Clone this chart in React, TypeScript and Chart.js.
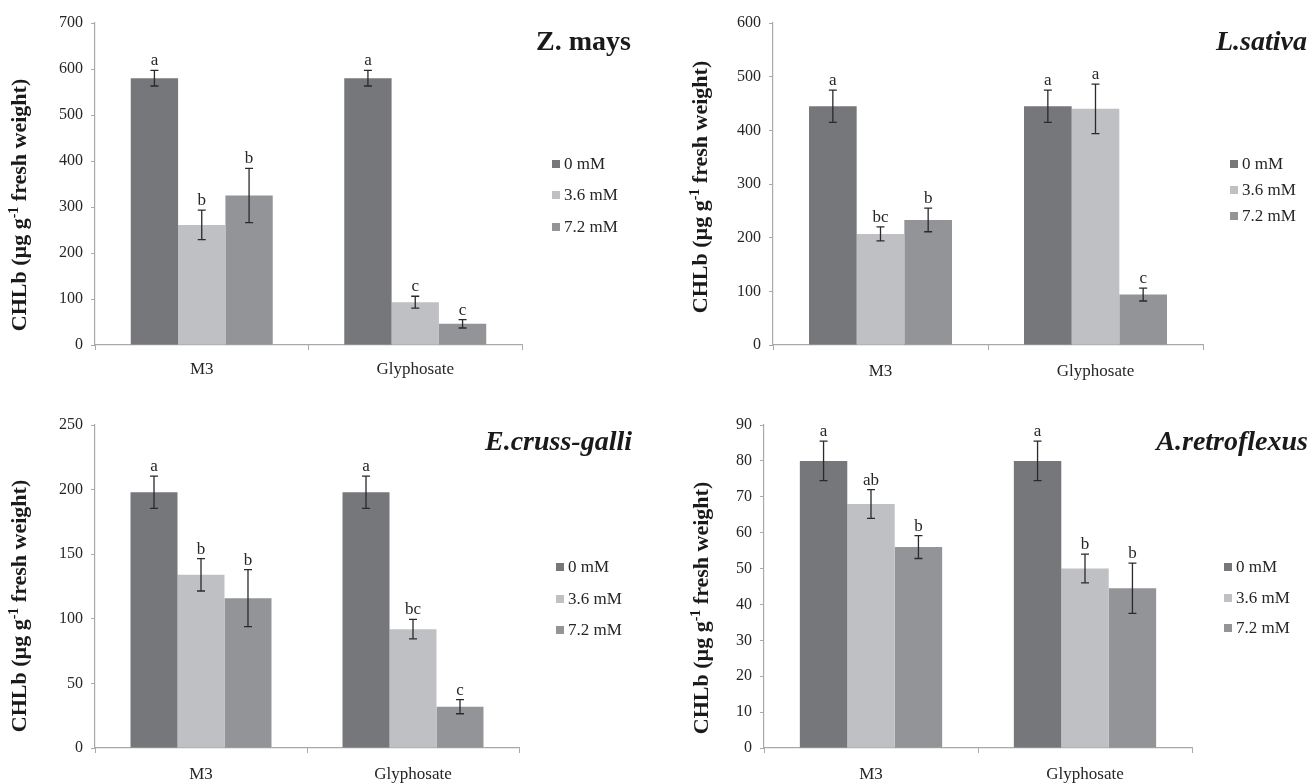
import React, { useEffect, useRef } from 'react';
import { Chart, registerables } from 'chart.js';

Chart.register(...registerables);

// ---------- shared ----------
const categories = ['M3', 'Glyphosate'];
const seriesLabels = ['0 mM', '3.6 mM', '7.2 mM'];
const seriesColors = ['#76777b', '#bfc0c4', '#939498'];

// ---------- Z. mays ----------
const zmaysTitle = 'Z. mays';
const zmays0 = [580, 580];
const zmays36 = [261, 93];
const zmays72 = [325, 46];
const zmaysErr0 = [17, 17];
const zmaysErr36 = [32, 13];
const zmaysErr72 = [59, 9];
const zmaysLetters0 = ['a', 'a'];
const zmaysLetters36 = ['b', 'c'];
const zmaysLetters72 = ['b', 'c'];
const zmaysTicks = [0, 100, 200, 300, 400, 500, 600, 700];

// ---------- L.sativa ----------
const lsativaTitle = 'L.sativa';
const lsativa0 = [445, 445];
const lsativa36 = [207, 440];
const lsativa72 = [233, 94];
const lsativaErr0 = [30, 30];
const lsativaErr36 = [13, 46];
const lsativaErr72 = [22, 12];
const lsativaLetters0 = ['a', 'a'];
const lsativaLetters36 = ['bc', 'a'];
const lsativaLetters72 = ['b', 'c'];
const lsativaTicks = [0, 100, 200, 300, 400, 500, 600];

// ---------- E.cruss-galli ----------
const ecrussTitle = 'E.cruss-galli';
const ecruss0 = [198, 198];
const ecruss36 = [134, 92];
const ecruss72 = [116, 32];
const ecrussErr0 = [12.5, 12.5];
const ecrussErr36 = [12.5, 7.5];
const ecrussErr72 = [22, 5.5];
const ecrussLetters0 = ['a', 'a'];
const ecrussLetters36 = ['b', 'bc'];
const ecrussLetters72 = ['b', 'c'];
const ecrussTicks = [0, 50, 100, 150, 200, 250];

// ---------- A.retroflexus ----------
const aretroTitle = 'A.retroflexus';
const aretro0 = [80, 80];
const aretro36 = [68, 50];
const aretro72 = [56, 44.5];
const aretroErr0 = [5.5, 5.5];
const aretroErr36 = [4, 4];
const aretroErr72 = [3.2, 7];
const aretroLetters0 = ['a', 'a'];
const aretroLetters36 = ['ab', 'b'];
const aretroLetters72 = ['b', 'b'];
const aretroTicks = [0, 10, 20, 30, 40, 50, 60, 70, 80, 90];

const FONT = "'Liberation Serif', 'Times New Roman', serif";
const AXIS_COLOR = '#a9a9a9';
const TEXT_COLOR = '#262626';
const PANEL_W = 656;
const PANEL_H = 392;

type Panel = {
  title: string;
  italic: boolean;
  values: number[][];
  errors: number[][];
  letters: string[][];
  ticks: number[];
  left: number; top: number;
  area: { left: number; right: number; top: number; bottom: number };
  xPad: number;
  legendX: number; legendY: number[];
  titleRight: number; titleY: number;
  yTitleX: number; yTitleY: number;
};

const panels: Panel[] = [
  {
    title: zmaysTitle, italic: false,
    values: [zmays0, zmays36, zmays72],
    errors: [zmaysErr0, zmaysErr36, zmaysErr72],
    letters: [zmaysLetters0, zmaysLetters36, zmaysLetters72],
    ticks: zmaysTicks,
    left: 0, top: 0,
    area: { left: 95, right: 522, top: 23, bottom: 345 },
    xPad: 9,
    legendX: 552, legendY: [164, 195, 227],
    titleRight: 631, titleY: 50,
    yTitleX: 20, yTitleY: 205,
  },
  {
    title: lsativaTitle, italic: true,
    values: [lsativa0, lsativa36, lsativa72],
    errors: [lsativaErr0, lsativaErr36, lsativaErr72],
    letters: [lsativaLetters0, lsativaLetters36, lsativaLetters72],
    ticks: lsativaTicks,
    left: 656, top: 0,
    area: { left: 117, right: 547, top: 23, bottom: 345 },
    xPad: 11,
    legendX: 574, legendY: [164, 190, 216],
    titleRight: 651, titleY: 50,
    yTitleX: 45, yTitleY: 187,
  },
  {
    title: ecrussTitle, italic: true,
    values: [ecruss0, ecruss36, ecruss72],
    errors: [ecrussErr0, ecrussErr36, ecrussErr72],
    letters: [ecrussLetters0, ecrussLetters36, ecrussLetters72],
    ticks: ecrussTicks,
    left: 0, top: 392,
    area: { left: 95, right: 519, top: 33, bottom: 356 },
    xPad: 11,
    legendX: 556, legendY: [175, 207, 238],
    titleRight: 632, titleY: 58,
    yTitleX: 20, yTitleY: 214,
  },
  {
    title: aretroTitle, italic: true,
    values: [aretro0, aretro36, aretro72],
    errors: [aretroErr0, aretroErr36, aretroErr72],
    letters: [aretroLetters0, aretroLetters36, aretroLetters72],
    ticks: aretroTicks,
    left: 656, top: 392,
    area: { left: 108, right: 536, top: 33, bottom: 356 },
    xPad: 11,
    legendX: 568, legendY: [175, 206, 236],
    titleRight: 652, titleY: 58,
    yTitleX: 46, yTitleY: 216,
  },
];

const decorPlugin = {
  id: 'decor',
  afterDatasetsDraw(chart: any) {
    const ctx = chart.ctx;
    const yScale = chart.scales.y;
    ctx.save();
    chart.data.datasets.forEach((ds: any, di: number) => {
      const meta = chart.getDatasetMeta(di);
      meta.data.forEach((bar: any, i: number) => {
        const v = ds.data[i];
        const e = ds.errors[i];
        const x = bar.x;
        const yT = yScale.getPixelForValue(v + e);
        const yB = yScale.getPixelForValue(v - e);
        ctx.strokeStyle = '#2a2a2a';
        ctx.lineWidth = 1.3;
        ctx.beginPath();
        ctx.moveTo(x, yT); ctx.lineTo(x, yB);
        ctx.moveTo(x - 4, yT); ctx.lineTo(x + 4, yT);
        ctx.moveTo(x - 4, yB); ctx.lineTo(x + 4, yB);
        ctx.stroke();
        ctx.fillStyle = TEXT_COLOR;
        ctx.font = `17px ${FONT}`;
        ctx.textAlign = 'center';
        ctx.textBaseline = 'alphabetic';
        ctx.fillText(ds.letters[i], x, yT - 5);
      });
    });
    ctx.restore();
  },
  afterDraw(chart: any, _args: any, opts: any) {
    const ctx = chart.ctx;
    ctx.save();
    // species title
    ctx.fillStyle = '#1a1a1a';
    ctx.font = `${opts.italic ? 'italic ' : ''}bold 28px ${FONT}`;
    ctx.textAlign = 'right';
    ctx.textBaseline = 'alphabetic';
    ctx.fillText(opts.title, opts.titleRight, opts.titleY);

    // legend
    chart.data.datasets.forEach((ds: any, i: number) => {
      const y = opts.legendY[i];
      ctx.fillStyle = ds.backgroundColor;
      ctx.fillRect(opts.legendX, y - 4, 8, 8);
      ctx.fillStyle = TEXT_COLOR;
      ctx.font = `17px ${FONT}`;
      ctx.textAlign = 'left';
      ctx.textBaseline = 'middle';
      ctx.fillText(ds.label, opts.legendX + 12, y + 1);
    });

    // y axis title with superscript
    ctx.translate(opts.yTitleX, opts.yTitleY);
    ctx.rotate(-Math.PI / 2);
    ctx.fillStyle = '#1a1a1a';
    ctx.textBaseline = 'middle';
    ctx.textAlign = 'left';
    const main = `bold 22px ${FONT}`;
    const sup = `bold 14px ${FONT}`;
    const parts: [string, string, number][] = [
      ['CHLb (\u00b5g g', main, 0],
      ['-1', sup, -6],
      [' fresh weight)', main, 0],
    ];
    let total = 0;
    parts.forEach(([t, f]) => { ctx.font = f; total += ctx.measureText(t).width; });
    let x = -total / 2;
    parts.forEach(([t, f, dy]) => {
      ctx.font = f;
      ctx.fillText(t, x, dy);
      x += ctx.measureText(t).width;
    });
    ctx.restore();
  },
};

function PanelChart({ p }: { p: Panel }) {
  const ref = useRef<HTMLCanvasElement | null>(null);
  useEffect(() => {
    if (!ref.current) return;
    const max = p.ticks[p.ticks.length - 1];
    const step = p.ticks[1] - p.ticks[0];
    const chart = new Chart(ref.current, {
      type: 'bar',
      data: {
        labels: categories,
        datasets: seriesLabels.map((label, i) => ({
          label,
          data: p.values[i],
          errors: p.errors[i],
          letters: p.letters[i],
          backgroundColor: seriesColors[i],
          borderWidth: 0,
          categoryPercentage: 0.665,
          barPercentage: 1.0,
        })) as any,
      },
      options: {
        responsive: false,
        animation: false,
        events: [],
        layout: {
          padding: { left: 0, top: p.area.top, right: PANEL_W - p.area.right, bottom: 0 },
        },
        plugins: {
          legend: { display: false },
          tooltip: { enabled: false },
          decor: {
            title: p.title, italic: p.italic,
            legendX: p.legendX, legendY: p.legendY,
            titleRight: p.titleRight, titleY: p.titleY,
            yTitleX: p.yTitleX, yTitleY: p.yTitleY,
          },
        } as any,
        scales: {
          x: {
            grid: { display: true, drawOnChartArea: false, tickLength: 5, color: AXIS_COLOR, offset: true, lineWidth: 1 },
            border: { display: true, color: AXIS_COLOR, width: 1.2 },
            ticks: { color: TEXT_COLOR, font: { family: FONT, size: 17 }, padding: p.xPad },
            afterFit: (s: any) => { s.height = PANEL_H - p.area.bottom; },
          },
          y: {
            min: 0,
            max,
            grid: { display: true, drawOnChartArea: false, tickLength: 4, color: AXIS_COLOR, lineWidth: 1 },
            border: { display: true, color: AXIS_COLOR, width: 1.2 },
            ticks: { stepSize: step, color: TEXT_COLOR, font: { family: FONT, size: 16 }, padding: 8 },
            afterFit: (s: any) => { s.width = p.area.left; },
          },
        },
      },
      plugins: [decorPlugin],
    });
    return () => chart.destroy();
  }, [p]);
  return (
    <canvas
      ref={ref}
      width={PANEL_W}
      height={PANEL_H}
      style={{ position: 'absolute', left: p.left, top: p.top, width: PANEL_W, height: PANEL_H }}
    />
  );
}

export default function App() {
  return (
    <div style={{ position: 'absolute', left: 0, top: 0, width: 1312, height: 784, background: '#ffffff' }}>
      {panels.map((p, i) => (
        <PanelChart key={i} p={p} />
      ))}
    </div>
  );
}
